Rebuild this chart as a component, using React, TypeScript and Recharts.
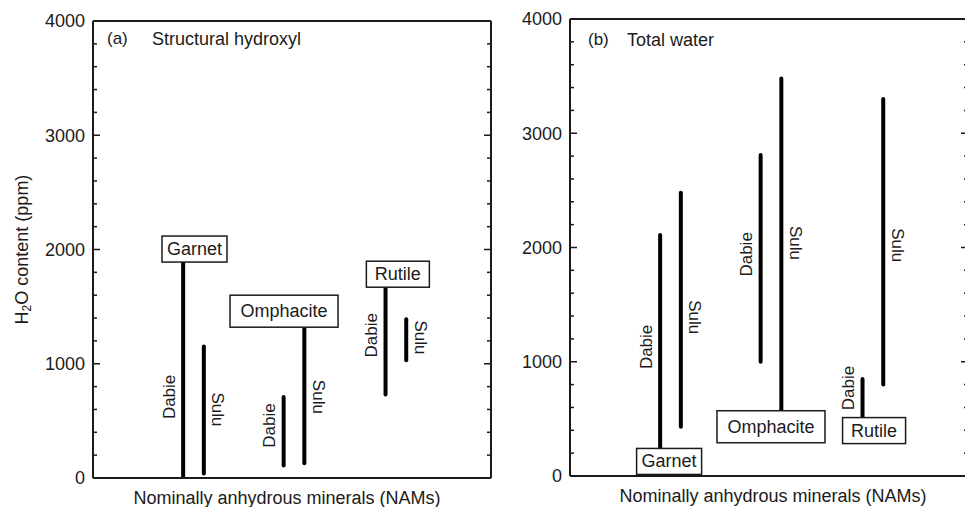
import React from "react";
import { LineChart, Line, XAxis, YAxis, ReferenceDot, Label } from "recharts";

// categories along the (hidden) x scale, 0-100
const minerals = ["Garnet", "Omphacite", "Rutile"];
const mineralX = [25.25, 50.5, 76.1];
const regions = ["Dabie", "Sulu"];
const xDomain = [0, 100];

const majorTicks = [0, 1000, 2000, 3000, 4000];
const minorTicks = [
  0, 200, 400, 600, 800, 1000, 1200, 1400, 1600, 1800, 2000,
  2200, 2400, 2600, 2800, 3000, 3200, 3400, 3600, 3800, 4000,
];

// (a) structural hydroxyl, ppm H2O
const hydroxylDabieMin = [10, 110, 730];
const hydroxylDabieMax = [1890, 710, 1670];
const hydroxylSuluMin = [40, 130, 1030];
const hydroxylSuluMax = [1150, 1320, 1390];

// (b) total water, ppm H2O
const waterDabieMin = [250, 1000, 520];
const waterDabieMax = [2110, 2810, 850];
const waterSuluMin = [430, 580, 800];
const waterSuluMax = [2480, 3480, 3300];

const ink = "#1b1b1b";
const font = "'Liberation Sans', Arial, Helvetica, sans-serif";
const SPREAD = 2.6;
const boxW = [65, 108, 63];
const boxH = [26, 32, 26];

const LeftTick = (props: any) => {
  const { x, y, payload } = props;
  return (
    <text x={x - 8} y={y} dy="0.36em" textAnchor="end" fontSize={18} fill={ink}>
      {payload.value}
    </text>
  );
};

// inward tick mark drawn from the frame edge
const tickShape = (len: number) => (p: any) => (
  <line x1={p.cx} x2={p.cx + len} y1={p.cy} y2={p.cy} stroke={ink} strokeWidth={1.5} />
);

const regionShape = (text: string, off: number, rot: number) => (p: any) => {
  const x = p.cx + off;
  return (
    <text
      x={x}
      y={p.cy}
      transform={`rotate(${rot} ${x} ${p.cy})`}
      textAnchor="middle"
      dominantBaseline="central"
      fontSize={17}
      fill={ink}
    >
      {text}
    </text>
  );
};

const boxShape = (name: string, w: number, h: number, below: boolean) => (p: any) => {
  const y0 = below ? p.cy + 1 : p.cy - h;
  return (
    <g>
      <rect x={p.cx - w / 2} y={y0} width={w} height={h} fill="#fff" stroke={ink} strokeWidth={1.5} />
      <text x={p.cx} y={y0 + h / 2} textAnchor="middle" dominantBaseline="central" fontSize={18} fill={ink}>
        {name}
      </text>
    </g>
  );
};

interface PanelProps {
  left: number;
  width: number;
  margin: { top: number; right: number; bottom: number; left: number };
  axisWidth: number;
  xAxisHeight: number;
  dabieMin: number[];
  dabieMax: number[];
  suluMin: number[];
  suluMax: number[];
  dabieLabelAt: number[];
  suluLabelAt: number[];
  boxX: number[];
  boxAt: number[];
  boxBelow: boolean;
  xLabelShift: number;
  yLabel?: boolean;
}

function Panel(p: PanelProps) {
  const series = [
    { name: regions[0], min: p.dabieMin, max: p.dabieMax, dx: -SPREAD, at: p.dabieLabelAt, off: -14, rot: -90 },
    { name: regions[1], min: p.suluMin, max: p.suluMax, dx: SPREAD, at: p.suluLabelAt, off: 14, rot: 90 },
  ];
  const border = { stroke: ink, strokeWidth: 2 };
  return (
    <div style={{ position: "absolute", left: p.left, top: 0 }}>
      <LineChart width={p.width} height={507} margin={p.margin}>
        <XAxis
          xAxisId="x"
          type="number"
          dataKey="x"
          domain={xDomain}
          tick={false}
          tickLine={false}
          axisLine={border}
          height={p.xAxisHeight}
        >
          <Label
            content={(lp: any) => {
              const vb = lp.viewBox;
              return (
                <text
                  x={vb.x + vb.width / 2 + p.xLabelShift}
                  y={vb.y + 20}
                  textAnchor="middle"
                  dominantBaseline="central"
                  fontSize={18}
                  fill={ink}
                >
                  Nominally anhydrous minerals (NAMs)
                </text>
              );
            }}
          />
        </XAxis>
        <XAxis xAxisId="top" orientation="top" type="number" domain={xDomain} height={1} tick={false} tickLine={false} axisLine={border} />
        <YAxis
          yAxisId="y"
          type="number"
          domain={[0, 4000]}
          ticks={majorTicks}
          interval={0}
          width={p.axisWidth}
          tickSize={0}
          tickMargin={0}
          tickLine={false}
          axisLine={border}
          tick={<LeftTick />}
        >
          {p.yLabel && (
            <Label
              content={(lp: any) => {
                const vb = lp.viewBox;
                const cx = vb.x + 9;
                const cy = vb.y + vb.height / 2;
                return (
                  <text
                    x={cx}
                    y={cy}
                    transform={`rotate(-90 ${cx} ${cy})`}
                    textAnchor="middle"
                    dominantBaseline="central"
                    fontSize={18}
                    fill={ink}
                  >
                    H<tspan fontSize={12} dy={5}>2</tspan>
                    <tspan dy={-5}>O content (ppm)</tspan>
                  </text>
                );
              }}
            />
          )}
        </YAxis>
        <YAxis
          yAxisId="r"
          orientation="right"
          type="number"
          domain={[0, 4000]}
          width={1}
          tick={false}
          tickLine={false}
          axisLine={border}
        />
        {minorTicks.map((v) => {
          const len = majorTicks.includes(v) ? 7 : 4;
          return (
            <React.Fragment key={`t-${v}`}>
              <ReferenceDot xAxisId="x" yAxisId="y" x={xDomain[0]} y={v} shape={tickShape(len)} />
              <ReferenceDot xAxisId="x" yAxisId="y" x={xDomain[1]} y={v} shape={tickShape(-len)} />
            </React.Fragment>
          );
        })}
        {series.flatMap((s) =>
          minerals.map((m, i) => (
            <Line
              key={`${s.name}-${m}`}
              xAxisId="x"
              yAxisId="y"
              data={[
                { x: mineralX[i] + s.dx, y: s.min[i] },
                { x: mineralX[i] + s.dx, y: s.max[i] },
              ]}
              dataKey="y"
              stroke="#000"
              strokeWidth={4}
              strokeLinecap="round"
              dot={false}
              activeDot={false}
              isAnimationActive={false}
            />
          ))
        )}
        {series.flatMap((s) =>
          minerals.map((m, i) => (
            <ReferenceDot
              key={`lab-${s.name}-${m}`}
              xAxisId="x"
              yAxisId="y"
              x={mineralX[i] + s.dx}
              y={s.at[i]}
              shape={regionShape(s.name, s.off, s.rot)}
            />
          ))
        )}
        {minerals.map((m, i) => (
          <ReferenceDot
            key={`box-${m}`}
            xAxisId="x"
            yAxisId="y"
            x={p.boxX[i]}
            y={p.boxAt[i]}
            shape={boxShape(m, boxW[i], boxH[i], p.boxBelow)}
          />
        ))}
      </LineChart>
    </div>
  );
}

const titleStyle = (left: number, top: number): React.CSSProperties => ({
  position: "absolute",
  left,
  top,
  fontSize: 18,
  lineHeight: "18px",
  color: ink,
  whiteSpace: "nowrap",
});

export default function App() {
  return (
    <div
      style={{
        position: "fixed",
        left: 0,
        top: 0,
        width: 965,
        height: 507,
        overflow: "hidden",
        background: "#fff",
        fontFamily: font,
      }}
    >
      <Panel
        left={0}
        width={500}
        margin={{ top: 20, right: 8, bottom: 0, left: 13 }}
        axisWidth={80}
        xAxisHeight={29}
        dabieMin={hydroxylDabieMin}
        dabieMax={hydroxylDabieMax}
        suluMin={hydroxylSuluMin}
        suluMax={hydroxylSuluMax}
        dabieLabelAt={[710, 460, 1250]}
        suluLabelAt={[600, 710, 1230]}
        boxX={[25.5, 48.0, 76.6]}
        boxAt={[hydroxylDabieMax[0], hydroxylSuluMax[1], hydroxylDabieMax[2]]}
        boxBelow={false}
        xLabelShift={-5}
        yLabel
      />
      <Panel
        left={490}
        width={480}
        margin={{ top: 18, right: 1, bottom: 0, left: 8 }}
        axisWidth={72}
        xAxisHeight={31}
        dabieMin={waterDabieMin}
        dabieMax={waterDabieMax}
        suluMin={waterSuluMin}
        suluMax={waterSuluMax}
        dabieLabelAt={[1130, 1940, 770]}
        suluLabelAt={[1390, 2040, 2020]}
        boxX={[24.9, 50.5, 76.4]}
        boxAt={[waterDabieMin[0], waterSuluMin[1], waterDabieMin[2]]}
        boxBelow
        xLabelShift={4}
      />
      <div style={{ ...titleStyle(107, 30), fontSize: 17 }}>(a)</div>
      <div style={titleStyle(152, 30)}>Structural hydroxyl</div>
      <div style={{ ...titleStyle(588, 31), fontSize: 17 }}>(b)</div>
      <div style={titleStyle(627, 31)}>Total water</div>
    </div>
  );
}
